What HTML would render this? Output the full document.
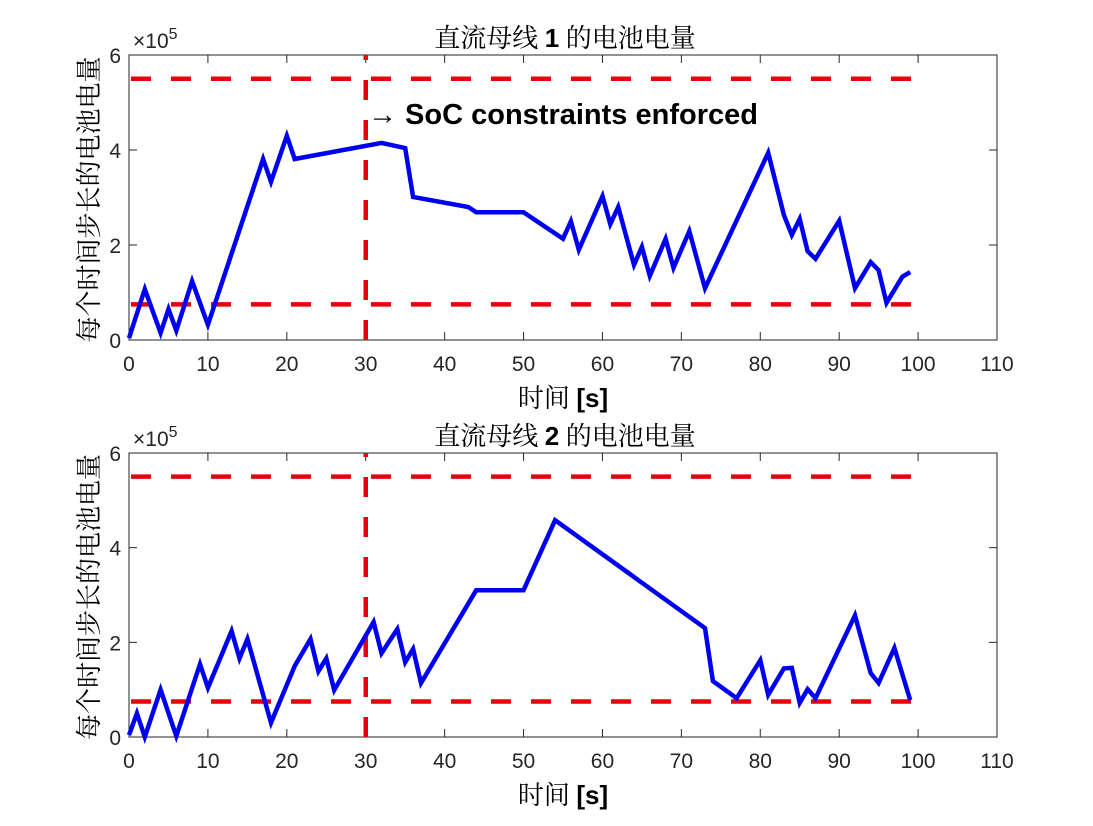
<!DOCTYPE html>
<html><head><meta charset="utf-8"><style>
body{margin:0;background:#fff;}
svg{display:block;}
.tk{font-family:"Liberation Sans",Arial,sans-serif;font-size:21px;fill:#262626;}
.cj{font-family:"Liberation Serif","Noto Serif CJK SC",serif;font-size:26px;fill:#000;}
</style></head><body>
<svg id="chart" width="1093" height="826" viewBox="0 0 1093 826" xmlns="http://www.w3.org/2000/svg">
<rect width="1093" height="826" fill="#fff"/>
</svg>
<script>
const xTicks=[0,10,20,30,40,50,60,70,80,90,100,110];
const yTicks=[0,2,4,6];
const bus1T=[0,2,4,5,6,8,10,17,18,20,21,32,35,36,43,44,50,55,56,57,60,61,62,64,65,66,68,69,71,73,81,83,84,85,86,87,90,92,94,95,96,98,99];
const bus1V=[0.04,1.07,0.15,0.65,0.2,1.24,0.32,3.81,3.33,4.3,3.81,4.15,4.04,3.01,2.8,2.69,2.69,2.13,2.5,1.9,3.03,2.44,2.8,1.58,1.96,1.35,2.13,1.52,2.29,1.09,3.94,2.63,2.21,2.55,1.87,1.71,2.51,1.09,1.64,1.47,0.78,1.33,1.43];
const bus2T=[0,1,2,4,6,9,10,13,14,15,18,21,23,24,25,26,31,32,34,35,36,37,44,50,54,73,74,77,80,81,83,84,85,86,87,92,94,95,97,99];
const bus2V=[0.04,0.5,0,1.0,0.02,1.54,1.04,2.24,1.66,2.07,0.3,1.5,2.07,1.39,1.66,0.99,2.43,1.77,2.28,1.58,1.86,1.14,3.1,3.1,4.58,2.3,1.18,0.82,1.62,0.89,1.45,1.46,0.72,1.01,0.82,2.57,1.35,1.14,1.88,0.78];
const upperLimit=5.5, lowerLimit=0.75, constraintTime=30;
const NS="http://www.w3.org/2000/svg";
const svg=document.getElementById('chart');
function mk(tag,attrs,parent){const e=document.createElementNS(NS,tag);for(const k in attrs)e.setAttribute(k,attrs[k]);(parent||svg).appendChild(e);return e;}
function panel(top,bot,T,V,num,key){
  const L=129,R=997;
  const sx=t=>L+(R-L)*t/110;
  const sy=v=>bot-(bot-top)*v/6;
  const g=mk('g',{});
  
  
  const box=mk('rect',{x:L,y:top,width:R-L,height:bot-top,fill:'#fff',stroke:'#262626','stroke-width':1},g);
  
  
  xTicks.forEach(t=>{
    mk('line',{x1:sx(t),x2:sx(t),y1:bot,y2:bot-8,stroke:'#262626'},g);
    mk('line',{x1:sx(t),x2:sx(t),y1:top,y2:top+8,stroke:'#262626'},g);
    const tx=mk('text',{x:sx(t),y:bot+31,'text-anchor':'middle',class:'tk'},g);
    tx.textContent=t;
    
    
  });
  yTicks.forEach(v=>{
    mk('line',{x1:L,x2:L+8,y1:sy(v),y2:sy(v),stroke:'#262626'},g);
    mk('line',{x1:R,x2:R-8,y1:sy(v),y2:sy(v),stroke:'#262626'},g);
    const tx=mk('text',{x:L-8,y:sy(v)+8,'text-anchor':'end',class:'tk'},g);
    tx.textContent=v;
    
    
  });
  const ex=mk('text',{x:L+4,y:top-7,class:'tk'},g);
  ex.innerHTML='×10<tspan dy="-9" font-size="16">5</tspan>';
  
  
  const dash={stroke:'#e8000b','stroke-width':4.5,'stroke-dasharray':'20 20',fill:'none'};
  [upperLimit,lowerLimit].forEach((v,i)=>{
    const l=mk('line',Object.assign({x1:L+2,x2:sx(100),y1:sy(v),y2:sy(v)},dash),g);
    
    
  });
  const vl=mk('line',Object.assign({x1:sx(constraintTime),x2:sx(constraintTime),y1:bot,y2:top},dash),g);
  
  
  const pts=T.map((t,i)=>sx(t).toFixed(1)+','+sy(V[i]).toFixed(1)).join(' ');
  const pl=mk('polyline',{points:pts,fill:'none',stroke:'#0000f0','stroke-width':4.5,'stroke-linejoin':'miter'},g);
  
  
  const ti=mk('text',{x:565,y:top-8,'text-anchor':'middle',class:'cj'},g);
  ti.innerHTML='直流母线 <tspan font-family="Liberation Sans" font-weight="bold">'+num+'</tspan> 的电池电量';
  
  
  const xl=mk('text',{x:563,y:bot+67,'text-anchor':'middle',class:'cj'},g);
  xl.innerHTML='时间 <tspan font-family="Liberation Sans" font-weight="bold">[s]</tspan>';
  
  
  const cy=(top+bot)/2;
  const yl=mk('text',{x:0,y:0,'text-anchor':'middle',class:'cj','font-size':'28px',transform:'translate(98,'+(cy+2)+') rotate(-90)'},g);
  yl.textContent='每个时间步长的电池电量';
  
  
  return {sx,sy};
}
panel(55,340,bus1T,bus1V,1,'bus-1');
panel(453,737,bus2T,bus2V,2,'bus-2');
const an=mk('text',{x:368,y:124,'font-family':'Liberation Sans, Arial, sans-serif','font-size':29,'font-weight':'bold',fill:'#000'});
an.innerHTML='<tspan font-weight="normal">→</tspan> SoC constraints enforced';


</script>
</body></html>
